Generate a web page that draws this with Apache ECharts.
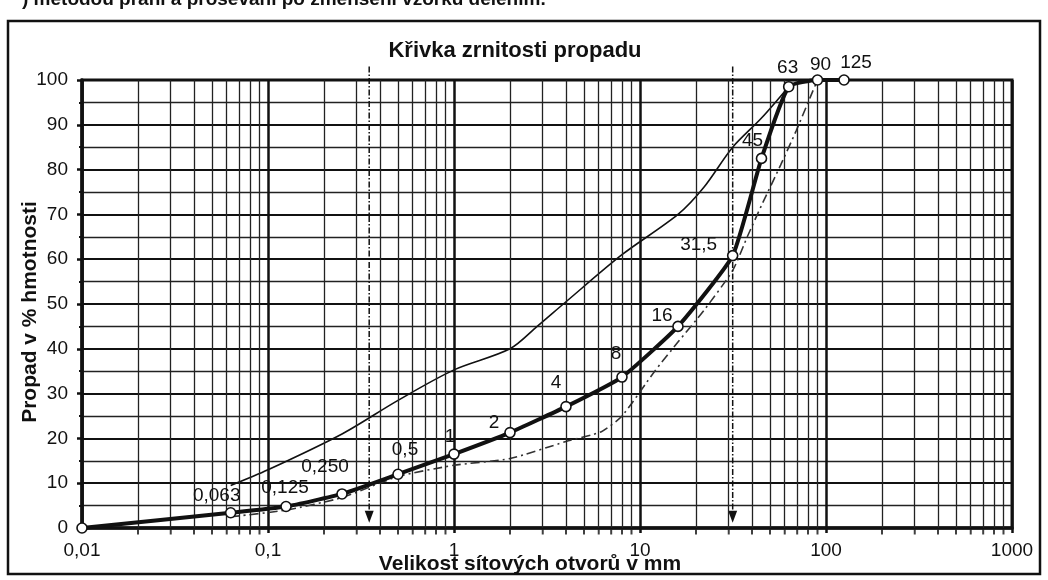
<!DOCTYPE html>
<html>
<head>
<meta charset="utf-8">
<script src="https://cdn.jsdelivr.net/npm/echarts@6/dist/echarts.min.js"></script>
<style>
  html, body { margin: 0; padding: 0; background: #fff; }
  #chart { width: 1048px; height: 580px; }
</style>
</head>
<body>
<div id="chart"></div>
<script>
// sítová analýza - propad na sítech (mm, %)
const sieveSizes = [0.01, 0.063, 0.125, 0.25, 0.5, 1, 2, 4, 8, 16, 31.5, 45, 63, 90, 125];
const passing = [0, 3.4, 4.8, 7.6, 12, 16.5, 21.3, 27.1, 33.7, 45, 60.8, 82.5, 98.5, 100, 100];
const sieveLabels = ['', '0,063', '0,125', '0,250', '0,5', '1', '2', '4', '8', '16', '31,5', '45', '63', '90', '125'];

// horní mez (tenká čára)
const upperX = [0.063, 0.1, 0.25, 0.5, 1, 2, 2.8, 4, 8, 16, 22, 31.5, 45, 63];
const upperY = [9.5, 13, 21, 28.5, 35.3, 40, 45, 50.5, 61, 70, 76, 85, 91.5, 98.5];

// dolní mez (čerchovaná čára)
const lowerX = [0.063, 0.125, 0.25, 0.5, 1, 2, 4, 6.2, 8, 12, 16, 22, 31.5, 38, 45, 57, 69, 82, 90];
const lowerY = [2.5, 4, 6.8, 11.5, 14, 15.5, 19.3, 21.5, 25, 35, 41.5, 48.5, 57.5, 65.3, 72, 81, 88.6, 96, 100];

// svislé značky d a D
const markSizes = [0.35, 31.5];
const markTop = 103;
const markBottom = 2.5;

const xTickLabels = ['0,01', '0,1', '1', '10', '100', '1000'];
const yTicks = [0, 10, 20, 30, 40, 50, 60, 70, 80, 90, 100];

// posun popisků u bodů (px)
const labelOffsets = [[0, 0], [-14, -17], [-1, -19], [-17, -27], [7, -24], [-4, -17], [-16, -10],
  [-10, -24], [-6, -23], [-16, -11], [-34, -11], [-9, -18], [-1, -19], [3, -15], [12, -17]];

// vedlejší svislé čáry mřížky 2..9 v každé dekádě
const minorX = [];
[0.01, 0.1, 1, 10, 100].forEach(d => {
  for (let k = 2; k <= 9; k++) minorX.push(Number((k * d).toPrecision(3)));
});

const FONT = "'Liberation Sans', Arial, sans-serif";
const INK = '#111';

const chart = echarts.init(document.getElementById('chart'));

const arrowSeries = markSizes.map(x => ({
  type: 'line',
  clip: false,
  silent: true,
  z: 4,
  data: [
    { value: [x, markTop], symbol: 'none' },
    { value: [x, markBottom], symbol: 'triangle', symbolRotate: 180, symbolSize: [9, 12] }
  ],
  itemStyle: { color: INK },
  lineStyle: { color: INK, width: 1.5, type: [6, 2, 1.5, 2] }
}));

chart.setOption({
  animation: false,
  backgroundColor: '#fff',
  textStyle: { fontFamily: FONT },
  grid: {
    left: 82, right: 36, top: 80, bottom: 52,
    show: true, borderColor: INK, borderWidth: 3
  },
  xAxis: {
    type: 'log',
    logBase: 10,
    min: 0.01,
    max: 1000,
    axisLine: { show: true, lineStyle: { color: INK, width: 3.5 } },
    axisTick: { show: true, length: 5, lineStyle: { color: INK, width: 2.5 } },
    splitLine: { show: true, lineStyle: { color: INK, width: 2.5 } },
    axisLabel: {
      color: INK, fontSize: 19, margin: 13, fontFamily: FONT,
      formatter: v => xTickLabels[Math.round(Math.log10(v)) + 2]
    }
  },
  yAxis: {
    type: 'value',
    min: 0,
    max: 100,
    interval: 10,
    axisLine: { show: true, lineStyle: { color: INK, width: 3.5 } },
    axisTick: { show: true, length: 5, lineStyle: { color: INK, width: 2.5 } },
    minorTick: { show: true, splitNumber: 2, length: 3, lineStyle: { color: INK, width: 2 } },
    splitLine: { show: true, lineStyle: { color: INK, width: 2.2 } },
    minorSplitLine: { show: true, lineStyle: { color: '#222', width: 1.3 } },
    axisLabel: {
      color: INK, fontSize: 19, margin: 14, fontFamily: FONT,
      formatter: v => (yTicks.indexOf(v) >= 0 ? String(v) : '')
    }
  },
  graphic: [
    {
      type: 'rect', silent: true, z: -1,
      shape: { x: 8, y: 21, width: 1032, height: 553 },
      style: { fill: 'none', stroke: INK, lineWidth: 2.5 }
    },
    {
      type: 'text', silent: true, left: 22, top: -10,
      style: { text: ') metodou praní a prosévání po zmenšení vzorku dělením.', font: 'bold 19px ' + FONT, fill: INK }
    },
    {
      type: 'text', silent: true, x: 515, y: 51,
      style: { text: 'Křivka zrnitosti propadu', font: 'bold 22px ' + FONT, fill: INK, align: 'center', verticalAlign: 'middle' }
    },
    {
      type: 'text', silent: true, x: 530, y: 564,
      style: { text: 'Velikost sítových otvorů v mm', font: 'bold 21px ' + FONT, fill: INK, align: 'center', verticalAlign: 'middle' }
    },
    {
      type: 'text', silent: true, x: 30, y: 312, rotation: Math.PI / 2,
      style: { text: 'Propad v % hmotnosti', font: 'bold 21px ' + FONT, fill: INK, align: 'center', verticalAlign: 'middle' }
    }
  ],
  series: [
    {
      // jen pro vedlejší svislé čáry mřížky
      type: 'line',
      silent: true,
      symbol: 'none',
      z: 1,
      data: [[0.01, 0]],
      lineStyle: { opacity: 0 },
      markLine: {
        silent: true,
        symbol: 'none',
        label: { show: false },
        lineStyle: { color: '#222', width: 1.3, type: 'solid' },
        data: minorX.map(v => ({ xAxis: v }))
      }
    },
    {
      // drobné značky pod osou x
      type: 'scatter',
      silent: true,
      clip: false,
      z: 2,
      symbol: 'rect',
      symbolSize: [2, 5],
      symbolOffset: [0, 4],
      itemStyle: { color: INK },
      data: minorX.map(v => [v, 0])
    },
    {
      type: 'line',
      silent: true,
      symbol: 'none',
      smooth: 0.3,
      z: 3,
      data: upperX.map((x, i) => [x, upperY[i]]),
      lineStyle: { color: INK, width: 1.6 }
    },
    {
      type: 'line',
      silent: true,
      symbol: 'none',
      smooth: 0.2,
      z: 3,
      data: lowerX.map((x, i) => [x, lowerY[i]]),
      lineStyle: { color: '#333', width: 1.6, type: [9, 4, 2, 4] }
    },
    ...arrowSeries,
    {
      type: 'line',
      silent: true,
      clip: false,
      z: 5,
      smooth: 0.15,
      symbol: 'circle',
      symbolSize: 10,
      itemStyle: { color: '#fff', borderColor: INK, borderWidth: 1.6 },
      lineStyle: { color: INK, width: 4 },
      label: { show: true, position: 'inside', fontSize: 19, color: INK, fontFamily: FONT },
      data: sieveSizes.map((x, i) => ({
        value: [x, passing[i]],
        label: { show: sieveLabels[i] !== '', formatter: sieveLabels[i], offset: labelOffsets[i] }
      }))
    }
  ]
});
</script>
</body>
</html>
